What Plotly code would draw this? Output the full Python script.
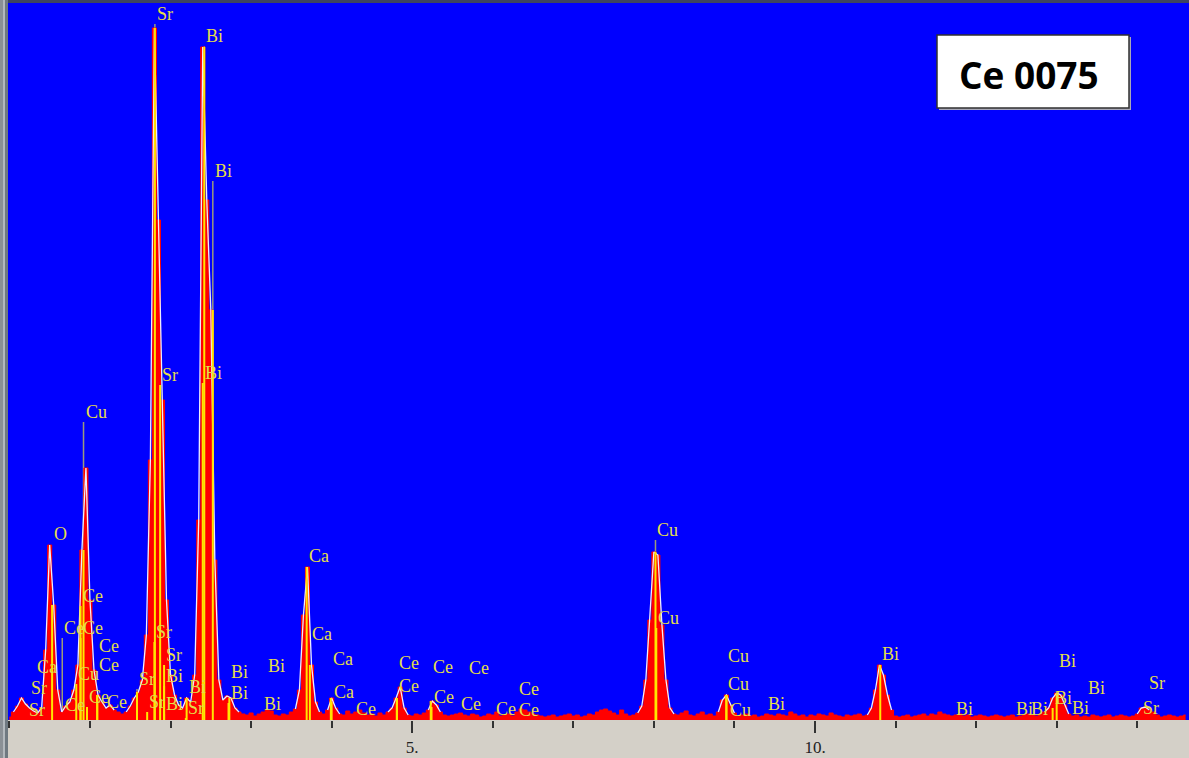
import plotly.graph_objects as go

# EDS spectrum, 0.05 keV per channel, counts per channel (arbitrary units)
CHANNEL_KEV = 0.05
counts = [
    3, 8, 14, 22, 16, 12, 9, 7, 12, 70,            # 0.00
    175, 115, 30, 8, 14, 18, 30, 55, 170, 252,     # 0.50
    120, 50, 25, 18, 12, 15, 10, 8, 6, 8,          # 1.00
    14, 22, 28, 40, 85, 260, 692, 500, 320, 120,   # 1.50
    45, 25, 15, 12, 22, 18, 45, 200, 673, 520,     # 2.00
    410, 160, 40, 20, 24, 22, 12, 8, 6, 5,         # 2.50
    7, 4, 6, 8, 10, 9, 5, 4, 6, 5,                 # 3.00
    8, 11, 30, 105, 153, 55, 18, 8, 6, 10,         # 3.50
    22, 12, 6, 5, 9, 6, 8, 10, 7, 5,               # 4.00
    6, 4, 7, 5, 8, 12, 22, 33, 12, 5,              # 4.50
    4, 6, 5, 7, 10, 19, 15, 8, 5, 4,               # 5.00
    5, 6, 7, 5, 4, 6, 5, 3, 4, 6,                  # 5.50
    5, 8, 4, 5, 6, 4, 8, 11, 10, 8,                # 6.00
    6, 5, 4, 3, 4, 5, 3, 4, 5, 6,                  # 6.50
    4, 5, 3, 4, 6, 5, 8, 10, 11, 9,                # 7.00
    7, 5, 10, 6, 4, 5, 7, 14, 40, 100,             # 7.50
    168, 165, 95, 40, 12, 6, 5, 7, 9, 5,           # 8.00
    4, 6, 8, 5, 6, 4, 8, 20, 25, 15,               # 8.50
    7, 4, 5, 6, 4, 5, 3, 4, 6, 5,                  # 9.00
    4, 6, 5, 4, 8, 6, 4, 5, 3, 5,                  # 9.50
    4, 6, 5, 4, 7, 5, 4, 3, 5, 4,                  # 10.00
    5, 6, 4, 5, 12, 30, 55, 45, 25, 10,            # 10.50
    4, 3, 4, 5, 3, 4, 5, 6, 4, 6,                  # 11.00
    5, 8, 6, 5, 4, 5, 6, 4, 5, 3,                  # 11.50
    4, 5, 4, 3, 4, 5, 4, 3, 4, 5,                  # 12.00
    3, 4, 5, 6, 5, 4, 6, 8, 12, 22,                # 12.50
    27, 25, 15, 6, 4, 5, 3, 4, 3, 5,               # 13.00
    4, 3, 4, 5, 3, 4, 5, 4, 3, 4,                  # 13.50
    6, 12, 13, 10, 8, 5, 3, 4, 5, 4,               # 14.00
    3, 4, 5,                                       # 14.50
]
energy = [round(i * CHANNEL_KEV, 3) for i in range(len(counts))]

# KLM line identifications: element, line energy (keV), label height (counts)
line_labels = [
    "Sr", "Bi", "Bi", "Sr", "Bi", "Cu", "O", "Ce", "Ce", "Ce",
    "Ce", "Ca", "Ce", "Cu", "Sr", "Sr", "Ce", "Ce", "Ce", "Sr",
    "Sr", "Sr", "Bi", "Bi", "Bi", "Bi", "Bi", "Bi", "Sr", "Bi",
    "Sr", "Ca", "Ca", "Ca", "Ca", "Ce", "Ce", "Ce", "Ce", "Ce",
    "Ce", "Ce", "Ce", "Ce", "Ce", "Cu", "Cu", "Cu", "Cu", "Cu",
    "Bi", "Bi", "Bi", "Bi", "Bi", "Bi", "Bi", "Bi", "Bi", "Sr",
    "Sr",
]
line_kev = [
    1.806, 2.419, 2.525, 1.871, 2.40, 0.92, 0.53, 0.883, 0.656, 0.883,
    1.09, 0.318, 1.09, 0.83, 0.243, 0.218, 0.67, 0.963, 1.187, 1.584,
    1.92, 1.80, 1.92, 2.20, 2.73, 2.72, 3.19, 3.14, 1.71, 1.92,
    2.19, 3.69, 3.73, 3.99, 4.00, 4.28, 4.81, 4.81, 5.23, 5.68,
    5.24, 5.58, 6.01, 6.30, 6.30, 8.02, 8.03, 8.90, 8.90, 8.92,
    9.39, 10.81, 11.72, 12.47, 12.66, 13.00, 12.95, 13.36, 13.16, 14.12,
    14.05,
]
label_counts = [
    706, 684, 549, 345, 347, 308, 186, 124, 92, 92,
    74, 53, 55, 46, 32, 10, 15, 23, 18, 41,
    65, 88, 44, 33, 48, 27, 54, 16, 18, 16,
    12, 164, 86, 61, 28, 11, 57, 34, 53, 52,
    23, 16, 11, 31, 10, 190, 102, 64, 36, 10,
    16, 66, 11, 11, 11, 59, 22, 32, 12, 37,
    12,
]
# markers whose line is drawn up to the label
marker_drawn = {0, 1, 2, 5, 8, 19, 45}

W, H = 1189, 758
ML, MR, MT, MB = 8, 0, 2, 38
PW, PH = W - ML - MR, H - MT - MB
X_RANGE = [-0.0174, 14.6426]
Y_MAX = 718

fig = go.Figure()

# full-height marker lines (only the part above the spectrum shows)
gx, gy = [], []
for i in sorted(marker_drawn):
    gx += [line_kev[i], line_kev[i], None]
    gy += [0, label_counts[i] - 10, None]
fig.add_trace(go.Scatter(x=gx, y=gy, mode="lines",
                         line=dict(color="#9a9a7a", width=1.5),
                         hoverinfo="skip", showlegend=False))

# spectrum as filled histogram
fig.add_trace(go.Scatter(x=energy, y=counts, mode="lines",
                         line=dict(color="#ff0000", width=1, shape="hvh"),
                         fill="tozeroy", fillcolor="#ff0000",
                         hoverinfo="skip", showlegend=False))

# light envelope over the peaks
env = []
for k in range(len(counts)):
    lo, hi = max(0, k - 1), min(len(counts), k + 2)
    env.append(counts[k] if max(counts[lo:hi]) >= 12 else None)
fig.add_trace(go.Scatter(x=energy, y=env, mode="lines",
                         line=dict(color="#eeeeff", width=1.3),
                         connectgaps=False, hoverinfo="skip", showlegend=False))

# marker lines inside the peaks
yx, yy = [], []
for e, h in zip(line_kev, label_counts):
    k = int(round(e / CHANNEL_KEV))
    top = min(h - 10, counts[k])
    if counts[k] >= 15 and top > 0:
        yx += [e, e, None]
        yy += [0, top, None]
fig.add_trace(go.Scatter(x=yx, y=yy, mode="lines",
                         line=dict(color="#ffe600", width=2),
                         hoverinfo="skip", showlegend=False))

for name, e, h in zip(line_labels, line_kev, label_counts):
    fig.add_annotation(x=e, y=h, text=name, showarrow=False,
                       xanchor="left", yanchor="middle",
                       font=dict(family="Liberation Serif", size=18, color="#e4de4a"))


def px_x(px):
    return (px - ML) / PW


def px_y(py):
    return (H - MB - py) / PH


shapes = [
    # left window frame
    dict(type="rect", xref="paper", yref="paper", x0=px_x(0), x1=px_x(3),
         y0=px_y(H), y1=px_y(0), fillcolor="#8a9096", line_width=0, layer="above"),
    dict(type="rect", xref="paper", yref="paper", x0=px_x(3), x1=px_x(5),
         y0=px_y(H), y1=px_y(0), fillcolor="#b2b8bd", line_width=0, layer="above"),
    dict(type="rect", xref="paper", yref="paper", x0=px_x(5), x1=px_x(8),
         y0=px_y(H), y1=px_y(0), fillcolor="#6f7981", line_width=0, layer="above"),
    # top frame
    dict(type="rect", xref="paper", yref="paper", x0=px_x(8), x1=px_x(W),
         y0=px_y(3), y1=px_y(0), fillcolor="#3e4560", line_width=0, layer="above"),
    # sample tag box
    dict(type="rect", xref="paper", yref="paper", x0=px_x(939), x1=px_x(1131),
         y0=px_y(110), y1=px_y(37), fillcolor="#a8a8b8", line_width=0, layer="above"),
    dict(type="rect", xref="paper", yref="paper", x0=px_x(937), x1=px_x(1129),
         y0=px_y(108), y1=px_y(35), fillcolor="#ffffff",
         line=dict(color="#303030", width=1.5), layer="above"),
]

fig.add_annotation(xref="paper", yref="paper", x=px_x(1029), y=px_y(74),
                   text="<b>Ce 0075</b>", showarrow=False,
                   xanchor="center", yanchor="middle",
                   font=dict(family="Open Sans", size=37, color="#000000"))

fig.update_layout(
    width=W, height=H,
    margin=dict(l=ML, r=MR, t=MT, b=MB, pad=0),
    paper_bgcolor="#d4d0c8", plot_bgcolor="#0000ff",
    shapes=shapes, showlegend=False,
    xaxis=dict(range=X_RANGE, showgrid=False, zeroline=False, showline=False,
               tickmode="array", tickvals=[5, 10], ticktext=["5.", "10."],
               ticks="outside", ticklen=12, tickwidth=2, tickcolor="#333333",
               tickfont=dict(family="Liberation Serif", size=17, color="#222222"),
               minor=dict(tickmode="linear", tick0=0, dtick=1, ticks="outside",
                          ticklen=7, tickwidth=2, tickcolor="#333333", showgrid=False),
               fixedrange=True),
    yaxis=dict(range=[0, Y_MAX], visible=False, fixedrange=True),
)

fig.write_html("out.html")
